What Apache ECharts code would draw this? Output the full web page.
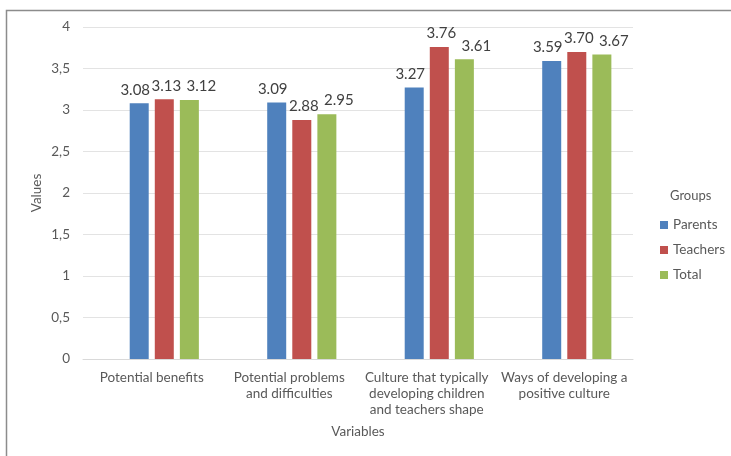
<!DOCTYPE html>
<html>
<head>
<meta charset="utf-8">
<script src="https://cdn.jsdelivr.net/npm/echarts@6/dist/echarts.min.js"></script>
<style>
html,body{margin:0;padding:0;background:#fff;}
#c{width:731px;height:456px;}
</style>
</head>
<body>
<div id="c"></div>
<script>
var categories = ['Potential benefits', 'Potential problems and difficulties', 'Culture that typically developing children and teachers shape', 'Ways of developing a positive culture'];
var tickLabels = ['Potential benefits', 'Potential problems\nand difficulties', 'Culture that typically\ndeveloping children\nand teachers shape', 'Ways of developing a\npositive culture'];
var parents = [3.08, 3.09, 3.27, 3.59];
var teachers = [3.13, 2.88, 3.76, 3.70];
var total = [3.12, 2.95, 3.61, 3.67];
var yTicks = [0, 0.5, 1, 1.5, 2, 2.5, 3, 3.5, 4];

var FONT = 'Lato';
var chart = echarts.init(document.getElementById('c'));
function lbl(dx){
  return {show:true, position:'top', distance:6, offset:[dx,0], color:'#404040', fontSize:15, fontFamily:FONT,
    formatter:function(p){return p.value.toFixed(2);}};
}
chart.setOption({
  animation:false,
  textStyle:{fontFamily:FONT},
  graphic:[
    {type:'rect', shape:{x:6.5, y:10.5, width:740, height:460},
      style:{fill:'none', stroke:'#8c8c8c', lineWidth:1.5}, silent:true},
    {type:'text', left:670, top:189, style:{text:'Groups', fill:'#595959', font:'13px Lato'}, silent:true}
  ],
  grid:{left:83, right:98, top:27, bottom:97},
  legend:{
    orient:'vertical', left:655, top:213,
    data:['Parents','Teachers','Total'],
    itemWidth:8, itemHeight:8, itemGap:11,
    textStyle:{color:'#595959', fontSize:13.5, fontFamily:FONT},
    icon:'rect'
  },
  xAxis:{
    type:'category', data:categories,
    name:'Variables', nameLocation:'middle', nameGap:66,
    nameTextStyle:{color:'#595959', fontSize:13.5, fontFamily:FONT},
    axisLine:{lineStyle:{color:'#d9d9d9'}},
    axisTick:{show:false},
    axisLabel:{color:'#595959', fontSize:13.5, fontFamily:FONT, margin:11, lineHeight:16,
      interval:0,
      formatter:function(v, i){return tickLabels[i];}}
  },
  yAxis:{
    type:'value', min:0, max:4, interval:0.5,
    name:'Values', nameLocation:'middle', nameGap:39, nameMoveOverlap:false,
    nameTextStyle:{color:'#595959', fontSize:13.5, fontFamily:FONT},
    axisLine:{show:false}, axisTick:{show:false},
    splitLine:{lineStyle:{color:'#e3e3e3'}},
    axisLabel:{color:'#595959', fontSize:13.5, fontFamily:FONT, margin:13,
      formatter:function(v){return String(v).replace('.', ',');}}
  },
  series:[
    {name:'', type:'bar', data:[null,null,null,null], barWidth:19, barGap:'32%'},
    {name:'Parents', type:'bar', data:parents, barWidth:19, barGap:'32%', itemStyle:{color:'#4F81BD'}, label:lbl(-4)},
    {name:'Teachers', type:'bar', data:teachers, barWidth:19, barGap:'32%', itemStyle:{color:'#C0504D'}, label:lbl(2)},
    {name:'Total', type:'bar', data:total, barWidth:19, barGap:'32%', itemStyle:{color:'#9BBB59'}, label:lbl(12)}
  ]
});
</script>
</body>
</html>
